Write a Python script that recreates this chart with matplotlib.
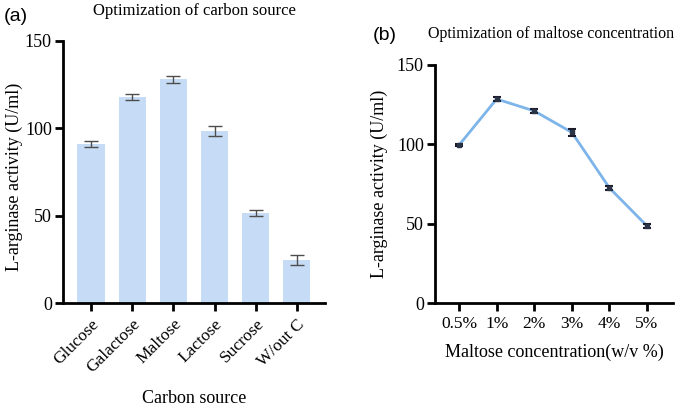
import matplotlib.pyplot as plt

# panel (a): carbon source
sources = ['Glucose', 'Galactose', 'Maltose', 'Lactose', 'Sucrose', 'W/out C']
src_mean = [91, 118, 128, 98.5, 51.5, 24.5]
src_err = [2, 1.8, 2, 2.8, 1.5, 3]

# panel (b): maltose concentration
conc = ['0.5%', '1%', '2%', '3%', '4%', '5%']
conc_mean = [99.5, 128.5, 121, 107.5, 72.5, 48.5]
conc_err = [0.6, 1.5, 1.5, 2.3, 1.3, 1.2]

plt.rcParams['font.family'] = ['Liberation Serif', 'DejaVu Serif']

fig = plt.figure(figsize=(6.82, 4.07), dpi=100)
ax1 = fig.add_axes([0.0924, 0.2555, 0.384, 0.644])
ax2 = fig.add_axes([0.6378, 0.2555, 0.349, 0.585])


def style(ax):
    for s in ['top', 'right']:
        ax.spines[s].set_visible(False)
    for s in ['left', 'bottom']:
        ax.spines[s].set_linewidth(2)
    ax.tick_params(width=2, length=6, labelsize=12.5, direction='out')
    ax.tick_params(axis='y', labelsize=13, pad=2)
    ax.set_ylim(0, 150)
    ax.set_yticks([0, 50, 100, 150])


x = range(len(sources))
ax1.bar(x, src_mean, width=0.66, color='#c6dcf6', zorder=1)
ax1.errorbar(x, src_mean, yerr=src_err, fmt='none', ecolor='#4d4d4d',
             elinewidth=1, capsize=5, capthick=1, zorder=2)
style(ax1)
ax1.set_xlim(-0.68, 5.68)
ax1.set_xticks(list(x))
ax1.set_xticklabels(sources, rotation=45, ha='right', rotation_mode='anchor', fontsize=12.5)
ax1.set_ylabel('L-arginase activity (U/ml)', fontsize=13, va='center')
ax1.yaxis.set_label_coords(-0.185, 0.48)
ax1.set_xlabel('Carbon source', fontsize=13, labelpad=10)
ax1.set_title('Optimization of carbon source', fontsize=12, pad=19)

x2 = range(len(conc))
ax2.plot(x2, conc_mean, color='#7db4e9', lw=2, zorder=1)
ax2.errorbar(x2, conc_mean, yerr=conc_err, fmt='s', ms=3, color='#2b3447',
             ecolor='#1a1a2a', elinewidth=1.2, capsize=3, capthick=1.5, zorder=2)
style(ax2)
ax2.set_xlim(-0.64, 5.69)
ax2.set_xticks(list(x2))
ax2.set_xticklabels(conc, fontsize=12.5)
ax2.set_ylabel('L-arginase activity (U/ml)', fontsize=13, va='center')
ax2.yaxis.set_label_coords(-0.235, 0.5)
ax2.set_xlabel('Maltose concentration(w/v %)', fontsize=13, labelpad=8)

fig.text(0.005, 0.948, '(a)', fontsize=14, family='Liberation Sans')
fig.text(0.547, 0.902, '(b)', fontsize=14, family='Liberation Sans')
fig.text(0.627, 0.907, 'Optimization of maltose concentration', fontsize=11.5)

fig.savefig('out.png', dpi=100)
